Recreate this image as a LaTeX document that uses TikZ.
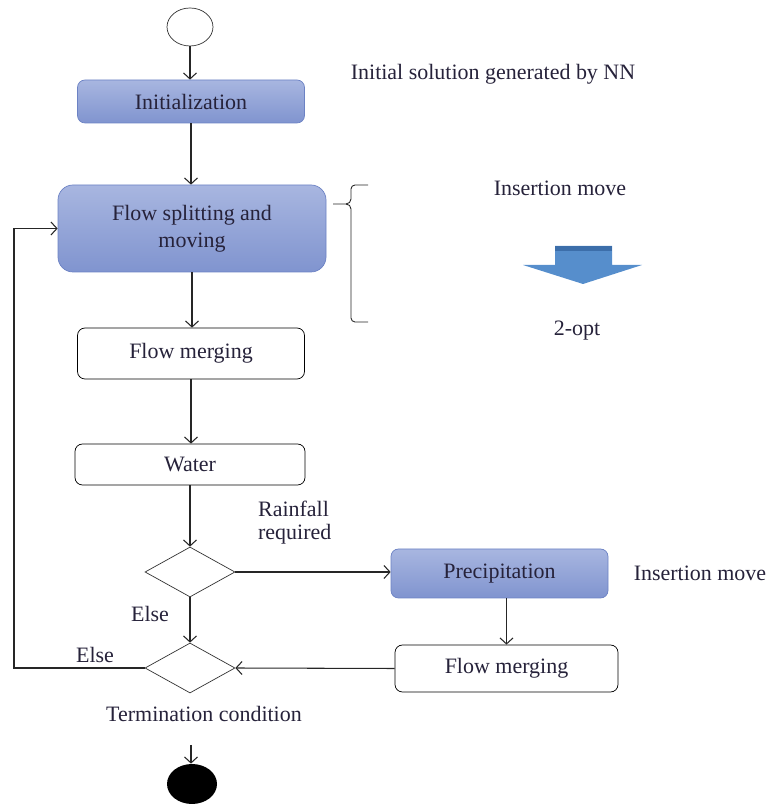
\documentclass[tikz,border=0pt]{standalone}
\usepackage{fontspec}
\setmainfont{Liberation Serif}
\usetikzlibrary{arrows.meta,positioning,shapes.geometric}
\definecolor{txtc}{RGB}{38,34,58}
\definecolor{boxtop}{RGB}{168,182,224}
\definecolor{boxbot}{RGB}{128,148,207}
\definecolor{boxline}{RGB}{108,130,196}
\definecolor{movefill}{RGB}{86,142,204}
\definecolor{moveband}{RGB}{60,110,170}

\begin{document}
\begin{tikzpicture}[
  >={Straight Barb[length=1.2mm,width=2.6mm]},
  every node/.style={font=\fontsize{12.5}{15.5}\selectfont,text=txtc},
  bluebox/.style={draw=boxline,top color=boxtop,bottom color=boxbot,rounded corners=1.5mm,inner sep=0pt},
  whitebox/.style={draw=black,fill=white,rounded corners=1.5mm,inner sep=0pt},
  decis/.style={diamond,draw=black!80,inner sep=0pt,minimum width=1.8cm,minimum height=1cm},
  lbl/.style={inner sep=1pt},
  flow/.style={->,line width=0.6pt,black!85}
]
\useasboundingbox (0,0) rectangle (15.34,16.08);

% main column
\node[ellipse,draw=black!80,minimum width=0.92cm,minimum height=0.76cm,inner sep=0pt] (start) at (3.80,15.54) {};
\node[bluebox,minimum width=4.54cm,minimum height=0.86cm] (init) at (3.82,14.05) {Initialization};
\node[bluebox,rounded corners=3mm,minimum width=5.36cm,minimum height=1.74cm,align=center] (split) at (3.84,11.51) {Flow splitting and\\moving};
\node[whitebox,minimum width=4.54cm,minimum height=1.02cm] (merge) at (3.82,9.01) {Flow merging};
\node[whitebox,minimum width=4.60cm,minimum height=0.82cm] (water) at (3.80,6.79) {Water};
\node[decis] (rain) at (3.80,4.64) {};
\node[decis] (term) at (3.80,2.72) {};
\node[ellipse,fill=black,minimum width=1.0cm,minimum height=0.8cm,inner sep=0pt] (stop) at (3.84,0.40) {};

% precipitation branch
\node[bluebox,minimum width=4.34cm,minimum height=0.98cm] (precip) at (9.99,4.61) {Precipitation};
\node[whitebox,minimum width=4.46cm,minimum height=0.94cm] (merge2) at (10.13,2.71) {Flow merging};

% connectors
\draw[flow] (start) -- (start |- init.north);
\draw[flow] (init) -- (init |- split.north);
\draw[flow] (split) -- (split |- merge.north);
\draw[flow] (merge) -- (merge |- water.north);
\draw[flow] (water) -- (water |- rain.north);
\draw[flow] (rain.east) -- (rain.east -| precip.west);
\draw[flow] (precip.south -| merge2.north) -- (merge2.north);
\draw[flow] (merge2.west) -- (term.east);
\draw[flow] (rain.south) -- (term.north);
\draw[flow] (term.west) -- (0.28,2.72) |- (split.west);
\coordinate (endin) at (3.82,1.18);
\draw[flow] (endin) -- (endin |- stop.north);

% labels
\node[lbl] (nn) at (9.86,14.60) {Initial solution generated by NN};
\node[lbl] (ins1) at (11.20,12.32) {Insertion move};
\node[lbl] (opt) at (11.54,9.46) {2-opt};
\node[lbl,anchor=west,align=left,font=\fontsize{12.5}{13}\selectfont] (rainlbl) at (5.12,5.62) {Rainfall\\required};
\node[lbl] (else1) at (3.00,3.80) {Else};
\node[lbl] (else2) at (1.90,2.98) {Else};
\node[lbl] (termlbl) at (4.08,1.80) {Termination condition};
\node[lbl] (ins2) at (14.00,4.62) {Insertion move};

% curly bracket next to the splitting step
\draw[line width=0.5pt,black!85] (7.36,12.38) -- (7.10,12.38) to[out=180,in=90] (7.02,12.30) -- (7.02,12.10) to[out=-90,in=0] (6.92,12.00) -- (6.66,12.00);
\draw[line width=0.5pt,black!85] (6.92,12.00) to[out=0,in=90] (7.02,11.90) -- (7.02,9.72) to[out=-90,in=180] (7.10,9.64) -- (7.36,9.64);

% block arrow between the two moves
\fill[movefill] (11.10,11.16) -- (12.24,11.16) -- (12.24,10.78) -- (12.84,10.78) -- (11.66,10.40) -- (10.46,10.78) -- (11.10,10.78) -- cycle;
\fill[moveband] (11.10,11.16) rectangle (12.24,11.05);

\end{tikzpicture}
\end{document}
